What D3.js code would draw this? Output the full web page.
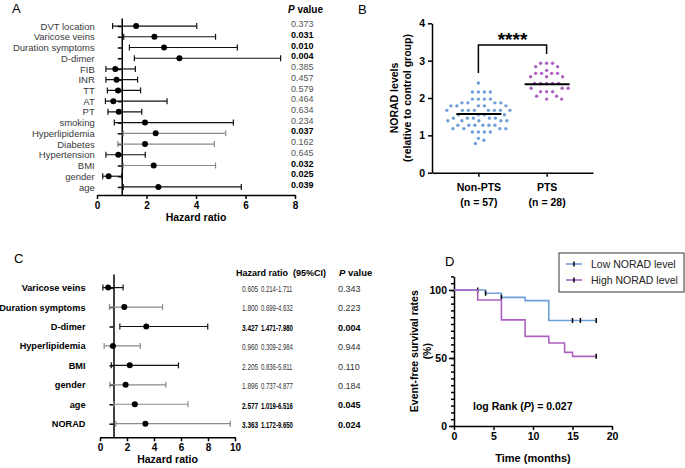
<!DOCTYPE html>
<html>
<head>
<meta charset="utf-8">
<title>NORAD figure</title>
<style>
  body { margin: 0; background: #fff; }
  svg { font-family: "Liberation Sans", Arial, sans-serif; }
  .axis path, .axis line { stroke: #000; stroke-width: 1.5; }
  .axis text { font-weight: bold; font-size: 10px; fill: #000; }
  .panel-label { font-size: 13px; fill: #000; }
  .bold { font-weight: bold; }
</style>
<script src="https://d3js.org/d3.v7.min.js"></script>
</head>
<body>
<script>
// ---------- data ----------
// A: univariate cox
const uniVars = ["DVT location", "Varicose veins", "Duration symptoms", "D-dimer", "FIB", "INR", "TT", "AT", "PT",
  "smoking", "Hyperlipidemia", "Diabetes", "Hypertension", "BMI", "gender", "age"];
const uniHR   = [1.58, 2.32, 2.71, 3.33, 0.74, 0.79, 0.85, 0.66, 0.88, 1.94, 2.37, 1.94, 0.86, 2.29, 0.47, 2.48];
const uniLow  = [0.63, 1.08, 1.31, 1.51, 0.36, 0.36, 0.42, 0.34, 0.44, 0.70, 1.06, 0.84, 0.36, 1.06, 0.23, 1.06];
const uniHigh = [4.03, 4.79, 5.67, 7.42, 1.55, 1.64, 1.76, 2.83, 1.81, 5.51, 5.20, 4.74, 1.95, 4.79, 1.00, 5.83];
const uniP    = ["0.373", "0.031", "0.010", "0.004", "0.385", "0.457", "0.579", "0.464", "0.634",
  "0.234", "0.037", "0.162", "0.645", "0.032", "0.025", "0.039"];

// B: NORAD levels
const groupNames = ["Non-PTS", "PTS"];
const groupN = [57, 28];
const nonPts = [2.40, 2.16, 2.16, 2.16, 2.16, 1.97, 1.97, 1.97, 1.97, 1.87, 1.87, 1.87, 1.87,
  1.79, 1.79, 1.79, 1.79, 1.79, 1.67, 1.67, 1.67, 1.67, 1.67, 1.67, 1.67, 1.67,
  1.55, 1.55, 1.55, 1.55, 1.46, 1.46, 1.46, 1.46, 1.46, 1.39, 1.39, 1.39, 1.39, 1.39,
  1.27, 1.27, 1.27, 1.27, 1.27, 1.27, 1.18, 1.18, 1.18, 1.18, 1.09, 1.09, 1.09, 1.09,
  0.92, 0.87, 0.78];
const pts = [2.93, 2.93, 2.93, 2.84, 2.84, 2.74, 2.66, 2.66, 2.66, 2.66, 2.57, 2.57, 2.57,
  2.39, 2.39, 2.39, 2.39, 2.39, 2.26, 2.26, 2.26, 2.17, 2.17, 2.17, 2.05, 2.05, 1.97, 1.97];
const groupMedian = [1.57, 2.37];

// C: multivariate cox
const multiVars = ["Varicose veins", "Duration symptoms", "D-dimer", "Hyperlipidemia", "BMI", "gender", "age", "NORAD"];
const multiHR   = [0.605, 1.800, 3.427, 0.960, 2.205, 1.896, 2.577, 3.363];
const multiLow  = [0.214, 0.699, 1.471, 0.309, 0.836, 0.737, 1.019, 1.172];
const multiHigh = [1.711, 4.632, 7.980, 2.984, 5.811, 4.877, 6.516, 9.650];
const multiP    = ["0.343", "0.223", "0.004", "0.944", "0.110", "0.184", "0.045", "0.024"];

// D: Kaplan-Meier
const lowTimes  = [0, 4, 6, 9, 12, 18];
const lowSurv   = [100, 97.6, 94.6, 92.2, 77.6, 77.6];
const lowCensor = [3, 4, 6, 15, 16, 18];
const highTimes  = [0, 3, 6, 9, 12, 14, 15, 18];
const highSurv   = [100, 92.7, 78.0, 65.9, 61.0, 54.1, 51.2, 51.2];
const highCensor = [18];

const blue = "#6f9fd8", purple = "#ad62c2";

const svg = d3.select("body").append("svg")
  .attr("width", 685)
  .attr("height", 468);

// ---------- forest plot helper ----------
function forest(g, vars, hr, lo, hi, x, y, opts) {
  g.append("g")
    .attr("class", "axis")
    .attr("transform", `translate(${x(1)},0)`)
    .call(d3.axisLeft(y).tickSize(4).tickSizeOuter(0).tickPadding(opts.labelPad))
    .selectAll("text")
    .style("font-size", opts.labelSize + "px")
    .style("font-weight", opts.labelWeight)
    .style("fill", opts.labelColor);

  g.append("g")
    .attr("class", "axis")
    .attr("transform", `translate(0,${opts.axisY})`)
    .call(d3.axisBottom(x).ticks(opts.nTicks).tickSize(4).tickSizeOuter(0).tickPadding(3));

  g.append("text")
    .attr("class", "bold")
    .attr("x", (x.range()[0] + x.range()[1]) / 2)
    .attr("y", opts.axisY + 26)
    .attr("text-anchor", "middle")
    .attr("font-size", 10.5)
    .text("Hazard ratio");

  const rows = g.append("g").selectAll("g")
    .data(vars)
    .join("g")
    .attr("transform", d => `translate(0,${y(d)})`);

  const col = d => opts.grey.has(d) ? "#8a8a8a" : "#111";
  rows.append("line")
    .attr("x1", (d, i) => x(lo[i]))
    .attr("x2", (d, i) => x(hi[i]))
    .attr("stroke", col)
    .attr("stroke-width", 1.2);
  rows.append("line")
    .attr("x1", (d, i) => x(lo[i])).attr("x2", (d, i) => x(lo[i]))
    .attr("y1", -3).attr("y2", 3)
    .attr("stroke", col)
    .attr("stroke-width", 1.2);
  rows.append("line")
    .attr("x1", (d, i) => x(hi[i])).attr("x2", (d, i) => x(hi[i]))
    .attr("y1", -3).attr("y2", 3)
    .attr("stroke", col)
    .attr("stroke-width", 1.2);
  rows.append("circle")
    .attr("cx", (d, i) => x(hr[i]))
    .attr("r", 3)
    .attr("fill", "#000");
  return rows;
}

// ---------- Panel A ----------
const gA = svg.append("g");
gA.append("text").attr("class", "panel-label").attr("x", 12).attr("y", 13).text("A");
const xA = d3.scaleLinear().domain([0, 8]).range([97, 295]);
const yA = d3.scalePoint().domain(uniVars).range([18, 195]).padding(0.75);
forest(gA, uniVars, uniHR, uniLow, uniHigh, xA, yA, {
  labelPad: 23, labelSize: 9.5, labelWeight: "normal", labelColor: "#3a3a3a",
  axisY: 195, nTicks: 4, grey: new Set(["Hyperlipidemia", "Diabetes", "BMI"])
});
const headA = gA.append("text").attr("x", 288).attr("y", 13).attr("font-size", 10).attr("class", "bold");
headA.append("tspan").attr("font-style", "italic").text("P");
headA.append("tspan").text(" value");
gA.append("g").selectAll("text")
  .data(uniP)
  .join("text")
  .attr("x", 291)
  .attr("y", (d, i) => yA(uniVars[i]) - 2)
  .attr("dy", "0.35em")
  .attr("font-size", 9)
  .attr("font-weight", d => +d < 0.05 ? "bold" : "normal")
  .attr("fill", d => +d < 0.05 ? "#000" : "#555")
  .text(d => d);

// ---------- Panel B ----------
const gB = svg.append("g");
gB.append("text").attr("class", "panel-label").attr("x", 358).attr("y", 14).text("B");
const yB = d3.scaleLinear().domain([0, 4]).range([172.7, 23.3]);
const xB = d3.scalePoint().domain(groupNames).range([432, 593]).padding(0.68);

gB.append("g").attr("class", "axis").attr("transform", "translate(432,0)")
  .call(d3.axisLeft(yB).ticks(4).tickSize(4).tickSizeOuter(0).tickPadding(3))
  .selectAll("text").style("font-size", "10.5px");
const axBx = gB.append("g").attr("class", "axis").attr("transform", `translate(0,${yB(0)})`)
  .call(d3.axisBottom(xB).tickSize(4).tickSizeOuter(0).tickFormat(""));
axBx.selectAll(".tick").each(function (d) {
  const t = d3.select(this).append("text").attr("text-anchor", "middle").style("font-size", "10.5px");
  t.append("tspan").attr("x", 0).attr("y", 18).text(d);
  t.append("tspan").attr("x", 0).attr("y", 33).text(`(n = ${groupN[groupNames.indexOf(d)]})`);
});

const yTitleB = gB.append("text")
  .attr("class", "bold")
  .attr("transform", `translate(398,${(yB(0) + yB(4)) / 2}) rotate(-90)`)
  .attr("text-anchor", "middle")
  .attr("font-size", 10.5);
yTitleB.append("tspan").attr("x", 0).attr("dy", 0).text("NORAD levels");
yTitleB.append("tspan").attr("x", 0).attr("dy", 12.5).text("(relative to control group)");

// simple beeswarm placement around the category centre
function swarm(values, cx, r, gap) {
  const placed = [];
  values.slice().sort((a, b) => b - a).forEach(v => {
    const py = yB(v);
    for (let k = 0; k < 400; k++) {
      const px = cx + (k % 2 ? 1 : -1) * Math.ceil(k / 2) * 0.5;
      if (placed.every(p => (p.x - px) ** 2 + (p.y - py) ** 2 >= (2 * r + gap) ** 2)) {
        placed.push({ x: px, y: py });
        break;
      }
    }
  });
  return placed;
}
[nonPts, pts].forEach((vals, gi) => {
  const pos = swarm(vals, xB(groupNames[gi]), 1.6, 2.6);
  gB.append("g").selectAll("circle")
    .data(pos)
    .join("circle")
    .attr("cx", d => d.x)
    .attr("cy", d => d.y)
    .attr("r", 1.7)
    .attr("fill", gi === 0 ? blue : purple);
  gB.append("line")
    .attr("x1", xB(groupNames[gi]) - 22).attr("x2", xB(groupNames[gi]) + 23)
    .attr("y1", yB(groupMedian[gi])).attr("y2", yB(groupMedian[gi]))
    .attr("stroke", "#000").attr("stroke-width", 2);
});
gB.append("path")
  .attr("d", `M${xB("Non-PTS")},73V45H${xB("PTS")}V54`)
  .attr("fill", "none").attr("stroke", "#000").attr("stroke-width", 1.5);
gB.append("text").attr("class", "bold")
  .attr("x", (xB("Non-PTS") + xB("PTS")) / 2).attr("y", 46)
  .attr("text-anchor", "middle").attr("font-size", 19).text("****");

// ---------- Panel C ----------
const gC = svg.append("g");
gC.append("text").attr("class", "panel-label").attr("x", 14).attr("y", 263).text("C");
const xC = d3.scaleLinear().domain([0, 10]).range([100, 235]);
const yC = d3.scalePoint().domain(multiVars).range([274, 437.3]).padding(0.7);
forest(gC, multiVars, multiHR, multiLow, multiHigh, xC, yC, {
  labelPad: 24, labelSize: 9.2, labelWeight: "bold", labelColor: "#000",
  axisY: 437.3, nTicks: 5, grey: new Set(["Duration symptoms", "Hyperlipidemia", "gender", "age", "NORAD"])
});
gC.append("text").attr("class", "bold").attr("x", 236).attr("y", 276).attr("font-size", 9)
  .attr("xml:space", "preserve").text("Hazard ratio  (95%CI)");
const headC = gC.append("text").attr("class", "bold").attr("x", 339).attr("y", 276).attr("font-size", 9.5);
headC.append("tspan").attr("font-style", "italic").text("P");
headC.append("tspan").text(" value");
const fmt = d3.format(".3f");
const tableC = gC.append("g").selectAll("g")
  .data(multiVars)
  .join("g")
  .attr("transform", d => `translate(0,${yC(d) + 1})`)
  .attr("font-weight", (d, i) => +multiP[i] < 0.05 ? "bold" : "normal")
  .attr("fill", (d, i) => +multiP[i] < 0.05 ? "#000" : "#333");
tableC.append("text")
  .attr("transform", "translate(242,0) scale(0.68,1)")
  .attr("dy", "0.35em").attr("font-size", 9.5)
  .text((d, i) => fmt(multiHR[i]));
tableC.append("text")
  .attr("transform", "translate(261,0) scale(0.63,1)")
  .attr("dy", "0.35em").attr("font-size", 9.5)
  .text((d, i) => `${fmt(multiLow[i])}-${fmt(multiHigh[i])}`);
tableC.append("text")
  .attr("x", 338)
  .attr("dy", "0.35em").attr("font-size", 9)
  .text((d, i) => multiP[i]);

// ---------- Panel D ----------
const gD = svg.append("g");
gD.append("text").attr("class", "panel-label").attr("x", 445).attr("y", 266).text("D");
const xD = d3.scaleLinear().domain([0, 20]).range([454, 612]);
const yD = d3.scaleLinear().domain([0, 110]).range([426, 276.4]);

gD.append("g").attr("class", "axis").attr("transform", "translate(454,0)")
  .call(d3.axisLeft(yD).tickValues(d3.range(0, 111, 5)).tickSize(3).tickSizeOuter(0).tickFormat(""));
gD.append("g").attr("class", "axis").attr("transform", "translate(454,0)")
  .call(d3.axisLeft(yD).tickValues([0, 50, 100]).tickSize(5).tickSizeOuter(0).tickPadding(2))
  .call(g => g.select(".domain").remove())
  .selectAll("text").style("font-size", "10.5px");
gD.append("g").attr("class", "axis").attr("transform", "translate(0,426)")
  .call(d3.axisBottom(xD).ticks(4).tickSize(4).tickSizeOuter(0).tickPadding(3))
  .selectAll("text").style("font-size", "10.5px");

gD.append("text").attr("class", "bold")
  .attr("x", (xD(0) + xD(20)) / 2).attr("y", 462)
  .attr("text-anchor", "middle").attr("font-size", 11).text("Time (months)");
const yTitleD = gD.append("text").attr("class", "bold")
  .attr("transform", `translate(418,${(yD(0) + yD(110)) / 2}) rotate(-90)`)
  .attr("text-anchor", "middle").attr("font-size", 10.5);
yTitleD.append("tspan").attr("x", 0).attr("dy", 0).text("Event-free survival rates");
yTitleD.append("tspan").attr("x", 0).attr("dy", 12.5).text("(%)");

const km = d3.line().curve(d3.curveStepAfter).x(d => xD(d[0])).y(d => yD(d[1]));
function survAt(times, surv, t) {
  let s = surv[0];
  times.forEach((tt, i) => { if (tt <= t) s = surv[i]; });
  return s;
}
[[lowTimes, lowSurv, lowCensor, blue], [highTimes, highSurv, highCensor, purple]].forEach(([t, s, c, col]) => {
  gD.append("path")
    .attr("d", km(t.map((tt, i) => [tt, s[i]])))
    .attr("fill", "none").attr("stroke", col).attr("stroke-width", 1.6);
  gD.append("g").selectAll("line")
    .data(c)
    .join("line")
    .attr("x1", d => xD(d)).attr("x2", d => xD(d))
    .attr("y1", d => yD(survAt(t, s, d)) - 2.5)
    .attr("y2", d => yD(survAt(t, s, d)) + 2.5)
    .attr("stroke", "#000").attr("stroke-width", 1.5);
});

const logRank = gD.append("text").attr("class", "bold").attr("x", 473).attr("y", 410).attr("font-size", 10.5);
logRank.append("tspan").text("log Rank (");
logRank.append("tspan").attr("font-style", "italic").text("P");
logRank.append("tspan").text(") = 0.027");

// legend
const legendItems = [["Low NORAD level", blue], ["High NORAD level", purple]];
gD.append("rect").attr("x", 559).attr("y", 253).attr("width", 125).attr("height", 39)
  .attr("fill", "#fff").attr("stroke", "#333").attr("stroke-width", 1);
const leg = gD.append("g").selectAll("g")
  .data(legendItems)
  .join("g")
  .attr("transform", (d, i) => `translate(566,${264 + i * 16})`);
leg.append("line").attr("x1", 0).attr("x2", 16).attr("stroke", d => d[1]).attr("stroke-width", 1.6);
leg.append("line").attr("x1", 8).attr("x2", 8).attr("y1", -2.5).attr("y2", 2.5).attr("stroke", "#000").attr("stroke-width", 1.5);
leg.append("text").attr("x", 25).attr("dy", "0.35em").attr("font-size", 10.5).attr("fill", "#222").text(d => d[0]);
</script>
</body>
</html>
